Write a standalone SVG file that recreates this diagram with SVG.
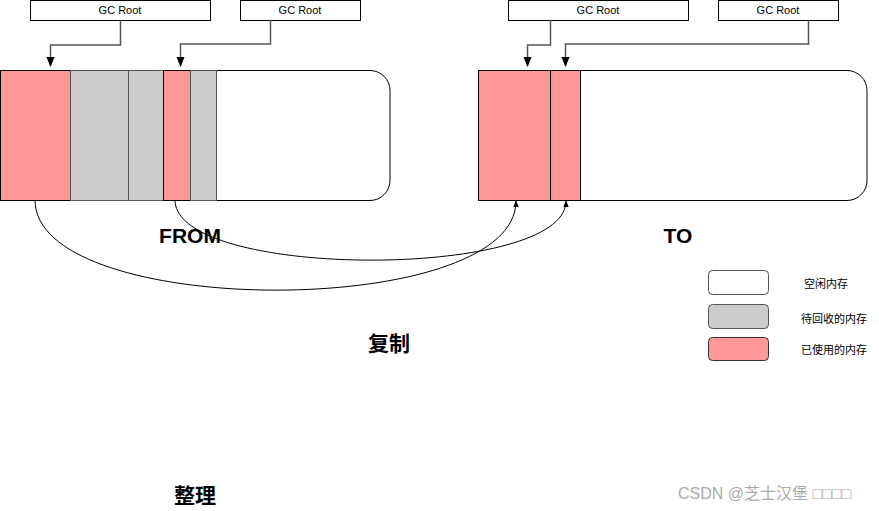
<svg xmlns="http://www.w3.org/2000/svg" width="879" height="511" viewBox="0 0 879 511">
<style>
.root{fill:#fff;stroke:#000;stroke-width:1}
.rt{font-family:"Liberation Sans",Arial,sans-serif;font-size:11px;text-anchor:middle}
.used{fill:#ff9999;stroke:#000}
.free{fill:#cccccc;stroke:#555}
.big{font-family:"Liberation Sans","Noto Sans CJK SC",sans-serif;font-weight:bold;font-size:21px;text-anchor:middle}
.leg{font-family:"Liberation Sans","Noto Sans CJK SC",sans-serif;font-size:11px;text-anchor:middle}
.c{fill:none;stroke:#000;stroke-width:1}
.e{fill:none;stroke:#555;stroke-width:1.5}
</style>
<defs><marker id="a" viewBox="0 0 10 10" refX="9" refY="5" markerWidth="7" markerHeight="7" orient="auto"><path d="M0,1 L10,5 L0,9 Z" fill="#000"/></marker></defs>
<rect width="879" height="511" fill="#fff"/>
<g id="roots">
<rect class="root" x="30.5" y="0.5" width="180" height="20"/><text class="rt" x="120" y="14">GC Root</text>
<rect class="root" x="240.5" y="0.5" width="120" height="20"/><text class="rt" x="300" y="14">GC Root</text>
<rect class="root" x="508.5" y="0.5" width="180" height="20"/><text class="rt" x="598" y="14">GC Root</text>
<rect class="root" x="718.5" y="0.5" width="120" height="20"/><text class="rt" x="778" y="14">GC Root</text>
</g>
<g id="from">
<path d="M0.5,70.5 H370 A20,20 0 0 1 390,90.5 V180 A20,20 0 0 1 370,200.5 H0.5 Z" fill="#fff" stroke="#000"/>
<rect class="used" x="0.5" y="70.5" width="70" height="130"/>
<rect class="free" x="70.5" y="70.5" width="58" height="130"/>
<rect class="free" x="128.5" y="70.5" width="35" height="130"/>
<rect class="used" x="163.5" y="70.5" width="27" height="130"/>
<rect class="free" x="190.5" y="70.5" width="26" height="130"/>
</g>
<g id="to">
<path d="M478.5,70.5 H847 A20,20 0 0 1 867,90.5 V180 A20,20 0 0 1 847,200.5 H478.5 Z" fill="#fff" stroke="#000"/>
<rect class="used" x="478.5" y="70.5" width="72" height="130"/>
<rect class="used" x="550.5" y="70.5" width="30" height="130"/>
</g>
<g id="connectors">
<path class="e" d="M120.5,20 V45 H50.5 V66" marker-end="url(#a)"/>
<path class="e" d="M270.5,20 V44 H180.5 V66" marker-end="url(#a)"/>
<path class="e" d="M550.5,20 V45 H527.5 V66" marker-end="url(#a)"/>
<path class="e" d="M808.5,20 V44 H565.5 V66" marker-end="url(#a)"/>
<path class="c" d="M35,200 C35,320 516,320 516,201" marker-end="url(#a)"/>
<path class="c" d="M175,200 C175,280 566,280 566,201" marker-end="url(#a)"/>
</g>
<g id="labels">
<text class="big" x="190" y="243">FROM</text>
<text class="big" x="678" y="243">TO</text>
<text class="big" x="389" y="351">复制</text>
<text class="big" x="195" y="503">整理</text>
</g>
<g id="legend">
<rect x="708.5" y="270.5" width="60" height="24" rx="4" fill="#fff" stroke="#555"/>
<rect x="708.5" y="304.5" width="60" height="24" rx="4" fill="#ccc" stroke="#555"/>
<rect x="708.5" y="337.5" width="60" height="23" rx="4" fill="#ff9999" stroke="#333"/>
<text class="leg" x="826" y="288">空闲内存</text>
<text class="leg" x="834" y="323">待回收的内存</text>
<text class="leg" x="834" y="354">已使用的内存</text>
</g>
<text x="678" y="499" font-family="'Liberation Sans','Noto Sans CJK SC',sans-serif" font-size="16" fill="#aaa">CSDN @芝士汉堡 □□□□</text>
</svg>
